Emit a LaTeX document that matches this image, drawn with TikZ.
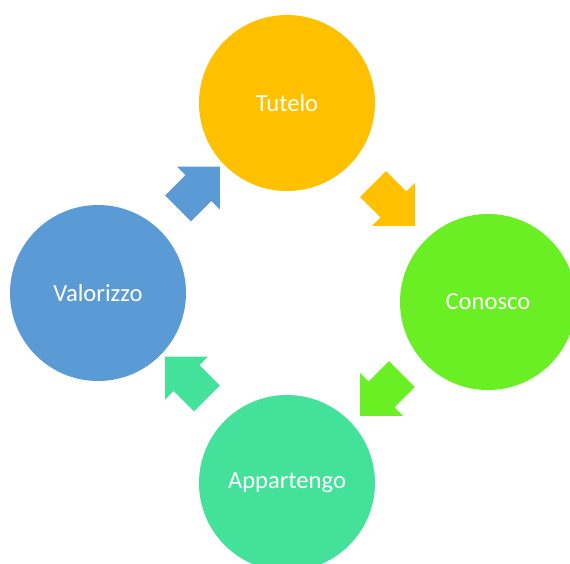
\documentclass[tikz,border=0pt]{standalone}
\usepackage{fontspec}
\setmainfont{Carlito}
\usepackage{xcolor}
\usepackage{tikz}
\usetikzlibrary{shapes.arrows, calc}
\definecolor{tutcol}{RGB}{255,192,0}
\definecolor{concol}{RGB}{106,238,36}
\definecolor{appcol}{RGB}{68,225,155}
\definecolor{valcol}{RGB}{91,155,213}
\tikzstyle{bubble} = [circle, minimum size=4.4cm, inner sep=0pt, text centered, text=white, font=\fontsize{17.5}{20}\selectfont]
\tikzstyle{blockarrow} = [single arrow, single arrow tip angle=90, single arrow head extend=0.3cm, minimum height=1.475cm, inner xsep=0pt, inner ysep=0.45cm]

\begin{document}
\begin{tikzpicture}
		\path[use as bounding box, clip] (0,0) rectangle (14.25,-14.075);
		
		\node (Tutelo) [bubble, fill=tutcol] at (7.175,-2.575) {Tutelo};
		\node (Conosco) [bubble, fill=concol] at (12.2,-7.55) {Conosco};
		\node (Appartengo) [bubble, fill=appcol] at (7.175,-12.075) {Appartengo};
		\node (Valorizzo) [bubble, fill=valcol] at (2.45,-7.325) {Valorizzo};
		
		% cycle arrows
		\node (arrowTC) [blockarrow, fill=tutcol, rotate=-45] at ($(Tutelo)!0.5!(Conosco)+(0,0.1)$) {};
		\node (arrowCA) [blockarrow, fill=concol, rotate=-135] at ($(Conosco)!0.5!(Appartengo)+(0,0.1)$) {};
		\node (arrowAV) [blockarrow, fill=appcol, rotate=135] at ($(Appartengo)!0.5!(Valorizzo)+(0,0.1)$) {};
		\node (arrowVT) [blockarrow, fill=valcol, rotate=45] at ($(Valorizzo)!0.5!(Tutelo)+(0,0.1)$) {};
	\end{tikzpicture}
\end{document}
